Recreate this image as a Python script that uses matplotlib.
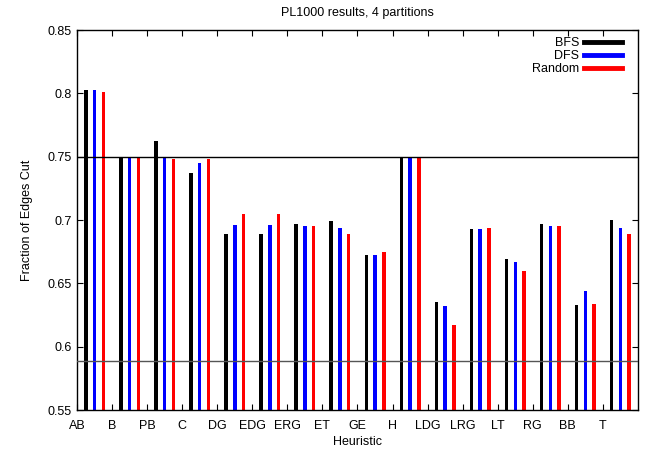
import numpy as np
import matplotlib
matplotlib.use("Agg")
import matplotlib.pyplot as plt

plt.rcParams['font.family'] = ['Liberation Sans', 'DejaVu Sans']

heuristics = ["AB", "B", "PB", "C", "DG", "EDG", "ERG", "ET", "GE", "H",
              "LDG", "LRG", "LT", "RG", "BB", "T"]
bfs = [0.803, 0.750, 0.762, 0.737, 0.689, 0.689, 0.697, 0.699, 0.672, 0.749,
       0.635, 0.693, 0.669, 0.697, 0.633, 0.700]
dfs = [0.803, 0.749, 0.749, 0.745, 0.696, 0.696, 0.695, 0.694, 0.672, 0.749,
       0.632, 0.693, 0.667, 0.695, 0.644, 0.694]
rnd = [0.801, 0.750, 0.748, 0.748, 0.705, 0.705, 0.695, 0.689, 0.675, 0.749,
       0.617, 0.694, 0.660, 0.695, 0.634, 0.689]
hlines = [0.75, 0.589]

fig = plt.figure(figsize=(6.51, 4.54), dpi=100)
ax = fig.add_axes([0.1183, 0.0969, 0.8617, 0.837])

x = np.arange(len(heuristics))
w = 0.1
ax.bar(x + 0.25, bfs, w, color="black", label="BFS")
ax.bar(x + 0.50, dfs, w, color="#0000ff", label="DFS")
ax.bar(x + 0.75, rnd, w, color="#ff0000", label="Random")

ax.axhline(hlines[0], color="black", lw=1.0, zorder=3)
ax.axhline(hlines[1], color="#555555", lw=1.0, zorder=3)

ax.set_xlim(0, 16)
ax.set_ylim(0.55, 0.85)
ax.set_xticks(x)
ax.set_xticklabels(heuristics)
ax.set_yticks(np.arange(0.55, 0.851, 0.05))
ax.set_yticklabels(["0.55", "0.6", "0.65", "0.7", "0.75", "0.8", "0.85"])
ax.tick_params(direction="in", top=True, right=True, length=4, width=0.8,
               labelsize=9, pad=4)
ax.tick_params(axis="x", pad=7)
for s in ax.spines.values():
    s.set_linewidth(1.0)

ax.set_title("PL1000 results, 4 partitions", fontsize=9, pad=10)
ax.set_xlabel("Heuristic", fontsize=9, labelpad=3)
ax.set_ylabel("Fraction of Edges Cut", fontsize=9, labelpad=10)

handles = [plt.Line2D([], [], color=c, lw=3.5) for c in ["black", "#0000ff", "#ff0000"]]
leg = ax.legend(handles, ["BFS", "DFS", "Random"], loc="upper right",
                bbox_to_anchor=(0.989, 1.008),
                frameon=False, fontsize=9, markerfirst=False,
                handlelength=3.0, handletextpad=0.4, labelspacing=0.1,
                borderaxespad=0.4)
for t in leg.get_texts():
    t.set_ha("right")

fig.savefig("out.png", dpi=100)
